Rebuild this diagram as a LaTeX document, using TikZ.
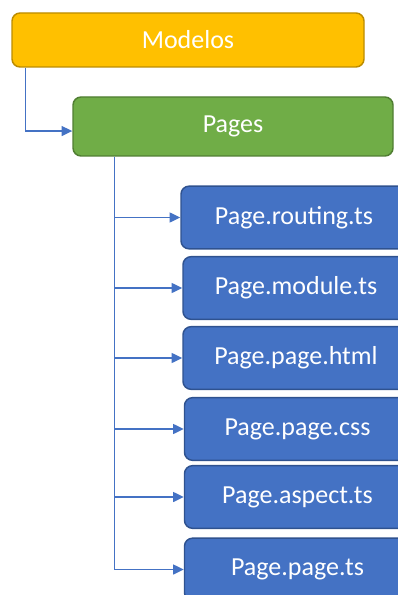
\documentclass[tikz,border=0pt]{standalone}
\usepackage{fontspec}
\setmainfont{Carlito}
\usetikzlibrary{arrows.meta}
\definecolor{gold}{HTML}{FFC000}
\definecolor{golddark}{HTML}{BC8C00}
\definecolor{leaf}{HTML}{70AD47}
\definecolor{leafdark}{HTML}{507E32}
\definecolor{sea}{HTML}{4472C4}
\definecolor{seadark}{HTML}{2F528F}
\begin{document}
\begin{tikzpicture}
  [x=0.75pt,y=-0.75pt,
   box/.style={rectangle,rounded corners=6pt,draw,line width=1.1pt,text=white,
     inner sep=0pt,font=\fontsize{19.5}{23}\selectfont},
   filebox/.style={box,fill=sea,draw=seadark,minimum width=169.5pt,minimum height=47pt},
   link/.style={draw=sea,line width=1pt,-{Triangle[length=8pt,width=7.5pt]}}]
  \useasboundingbox (0,0) rectangle (398,595);
  \clip (0,0) rectangle (398,595);

  \node[box,fill=gold,draw=golddark,minimum width=264pt,minimum height=40.5pt] (modelos) at (188,40) {Modelos};
  \node[box,fill=leaf,draw=leafdark,minimum width=240pt,minimum height=44.25pt] (pages) at (233,126.5) {Pages};

  \node[filebox] (routing) at (294,217.5) {Page.routing.ts};
  \node[filebox] (module)  at (296,288)   {Page.module.ts};
  \node[filebox] (html)    at (296,358)   {Page.page.html};
  \node[filebox] (css)     at (297.5,429) {Page.page.css};
  \node[filebox] (aspect)  at (297.5,497) {Page.aspect.ts};
  \node[filebox] (pagets)  at (297.5,569.5) {Page.page.ts};

  \coordinate (trunk) at ([xshift=31.5pt]pages.south west);

  \draw[link] ([xshift=10.5pt]modelos.south west) |- ([yshift=-3.4pt]pages.west);
  \draw[link] (trunk) |- (pagets.west);

  \foreach \to in {routing,module,html,css,aspect}
    \draw[link] (trunk |- \to.west) -- (\to.west);

\end{tikzpicture}
\end{document}
